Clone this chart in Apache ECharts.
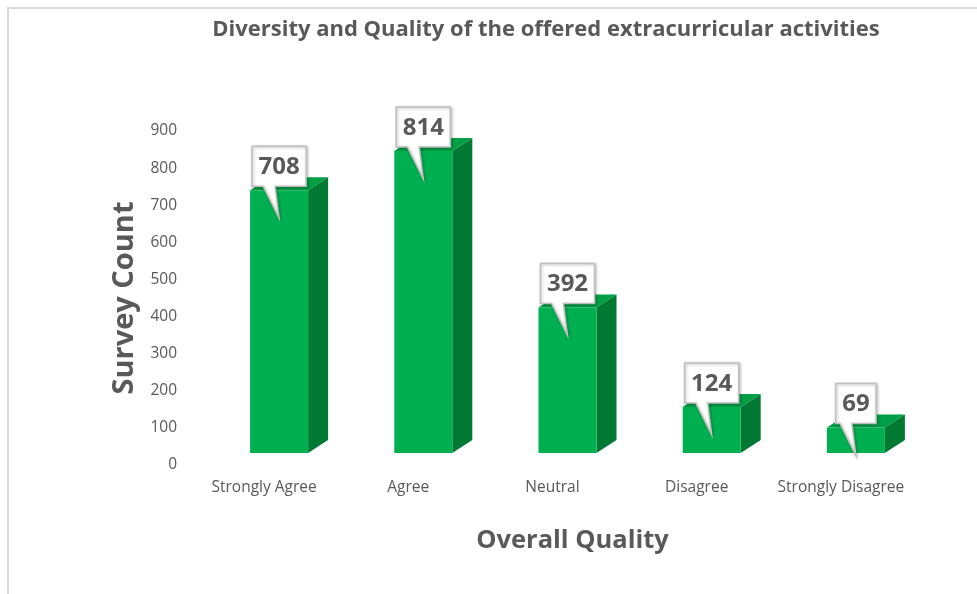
<!DOCTYPE html>
<html>
<head>
<meta charset="utf-8">
<title>Diversity and Quality of the offered extracurricular activities</title>
<script src="https://cdn.jsdelivr.net/npm/echarts@6/dist/echarts.min.js"></script>
<style>
  html, body {
    margin: 0;
    padding: 0;
    background: #fff;
  }
  #chart {
    width: 977px;
    height: 594px;
  }
</style>
</head>
<body>
<div id="chart"></div>
<script>
// data
var categories = ['Strongly Agree', 'Agree', 'Neutral', 'Disagree', 'Strongly Disagree']
var counts = [708, 814, 392, 124, 69]
var yTicks = { min: 0, max: 900, interval: 100 }

// 3d look of the excel bars
var FRONT = '#00B050'
var TOP = '#009E45'
var SIDE = '#007A32'
var HALF_W = 29
var DEPTH_X = 20
var DEPTH_Y = -13
var SHIFT_X = 15
var SHIFT_Y = 12
var TEXT_GREY = '#595959'
var FONT = '"Open Sans", "Noto Sans", sans-serif'

function renderBar(params, api) {
  var i = api.value(0)
  var v = api.value(1)
  var base = api.coord([i, 0])
  var top = api.coord([i, v])
  var cx = base[0] + SHIFT_X
  var x0 = cx - HALF_W
  var x1 = cx + HALF_W
  var yb = base[1] - SHIFT_Y
  var yt = top[1] - SHIFT_Y

  var label = String(v)
  var boxW = label.length * 13.7 + 13
  var boxH = 40
  var bl = cx - boxW / 2
  var br = cx + boxW / 2
  var bb = yt - 4
  var bt = bb - boxH
  var tipY = yt + 28

  return {
    type: 'group',
    children: [
      {
        type: 'polygon',
        shape: { points: [[x1, yt], [x1 + DEPTH_X, yt + DEPTH_Y], [x1 + DEPTH_X, yb + DEPTH_Y], [x1, yb]] },
        style: { fill: SIDE }
      },
      {
        type: 'polygon',
        shape: { points: [[x0, yt], [x0 + DEPTH_X, yt + DEPTH_Y], [x1 + DEPTH_X, yt + DEPTH_Y], [x1, yt]] },
        style: { fill: TOP }
      },
      {
        type: 'rect',
        shape: { x: x0, y: yt, width: x1 - x0, height: yb - yt },
        style: { fill: FRONT }
      },
      // callout box with its tail
      {
        type: 'polygon',
        shape: {
          points: [[bl, bt], [br, bt], [br, bb], [cx - 4, bb], [cx, tipY], [cx - 16, bb], [bl, bb]]
        },
        style: {
          fill: '#fff',
          stroke: '#BFBFBF',
          lineWidth: 1.5,
          shadowBlur: 3,
          shadowColor: 'rgba(0,0,0,0.25)',
          shadowOffsetX: 1,
          shadowOffsetY: 1
        }
      },
      {
        type: 'text',
        x: cx,
        y: (bt + bb) / 2 + 1,
        style: {
          text: label,
          fill: TEXT_GREY,
          font: 'bold 24px ' + FONT,
          align: 'center',
          verticalAlign: 'middle'
        }
      }
    ]
  }
}

var chart = echarts.init(document.getElementById('chart'))

var seriesData = counts.map(function (c, i) {
  return [i, c]
})

var option = {
  animation: false,
  backgroundColor: '#fff',
  title: {
    text: 'Diversity and Quality of the offered extracurricular activities',
    left: 541,
    top: 14,
    textAlign: 'center',
    textStyle: {
      color: TEXT_GREY,
      fontFamily: FONT,
      fontWeight: 'bold',
      fontSize: 22
    }
  },
  grid: {
    left: 192,
    right: 64,
    top: 131,
    bottom: 129,
    containLabel: false
  },
  xAxis: {
    type: 'category',
    data: categories,
    name: 'Overall Quality',
    nameLocation: 'middle',
    nameGap: 63,
    nameTextStyle: {
      color: TEXT_GREY,
      fontFamily: FONT,
      fontWeight: 'bold',
      fontSize: 25.5,
      padding: [0, 0, 0, 40]
    },
    axisLine: { show: false },
    axisTick: { show: false },
    splitLine: { show: false },
    axisLabel: {
      color: TEXT_GREY,
      fontFamily: FONT,
      fontSize: 15.5,
      margin: 15,
      interval: 0
    }
  },
  yAxis: {
    type: 'value',
    min: yTicks.min,
    max: yTicks.max,
    interval: yTicks.interval,
    name: 'Survey Count',
    nameLocation: 'middle',
    nameGap: 51,
    nameRotate: 90,
    nameTextStyle: {
      color: TEXT_GREY,
      fontFamily: FONT,
      fontWeight: 'bold',
      fontSize: 29
    },
    axisLine: { show: false },
    axisTick: { show: false },
    splitLine: { show: false },
    axisLabel: {
      color: TEXT_GREY,
      fontFamily: FONT,
      fontSize: 15.5,
      margin: 15
    }
  },
  graphic: [
    {
      type: 'polyline',
      silent: true,
      shape: { points: [[8, 594], [8, 8], [977, 8]] },
      style: { stroke: '#D9D9D9', lineWidth: 2, fill: null }
    }
  ],
  series: [
    {
      type: 'custom',
      renderItem: renderBar,
      data: seriesData,
      encode: { x: 0, y: 1 },
      clip: false
    }
  ]
}

chart.setOption(option)
</script>
</body>
</html>
